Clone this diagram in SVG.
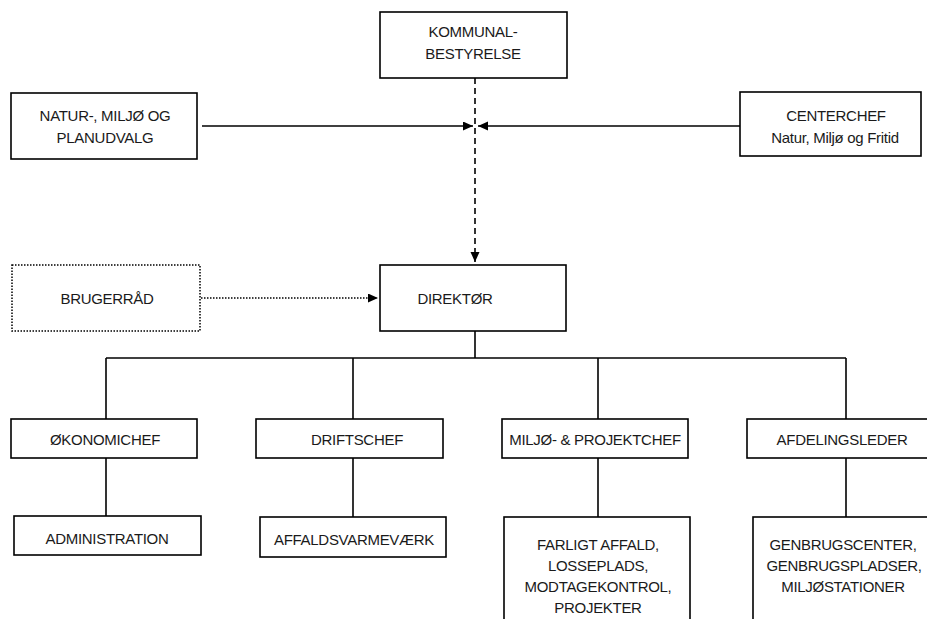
<svg xmlns="http://www.w3.org/2000/svg" width="927" height="619" viewBox="0 0 927 619">
<style>
  .box { fill: #ffffff; stroke: #000000; stroke-width: 1.6; }
  .dotbox { fill: #ffffff; stroke: #000000; stroke-width: 1.5; stroke-dasharray: 1.5 1.5; }
  .t { font-family: "Liberation Sans", Arial, sans-serif; font-size: 15px; letter-spacing: -0.3px; fill: #1a1a1a; text-anchor: middle; }
  .ln { fill: none; stroke: #000000; stroke-width: 1.6; }
  .dash { fill: none; stroke: #000000; stroke-width: 1.6; stroke-dasharray: 6 4; }
  .dot { fill: none; stroke: #000000; stroke-width: 1.5; stroke-dasharray: 1.5 1.5; }
</style>
<defs>
  <marker id="ah" markerUnits="userSpaceOnUse" markerWidth="11" markerHeight="10" refX="10" refY="4.5" orient="auto">
    <path d="M0,0 L10,4.5 L0,9 z" fill="#000000"/>
  </marker>
</defs>
<rect width="927" height="619" fill="#ffffff"/>

<g id="connectors">
  <line class="dash" x1="475" y1="78" x2="475" y2="262" marker-end="url(#ah)"/>
  <line class="ln" x1="202" y1="126" x2="473" y2="126" marker-end="url(#ah)"/>
  <line class="ln" x1="740" y1="126" x2="478" y2="126" marker-end="url(#ah)"/>
  <line class="dot" x1="201" y1="298" x2="378" y2="298" marker-end="url(#ah)"/>
  <line class="ln" x1="475" y1="331" x2="475" y2="358"/>
  <line class="ln" x1="106" y1="358" x2="846" y2="358"/>
  <line class="ln" x1="106" y1="358" x2="106" y2="419"/>
  <line class="ln" x1="353" y1="358" x2="353" y2="419"/>
  <line class="ln" x1="598" y1="358" x2="598" y2="419"/>
  <line class="ln" x1="846" y1="358" x2="846" y2="419"/>
  <line class="ln" x1="106" y1="458" x2="106" y2="516"/>
  <line class="ln" x1="353" y1="458" x2="353" y2="517"/>
  <line class="ln" x1="598" y1="458" x2="598" y2="517"/>
  <line class="ln" x1="846" y1="458" x2="846" y2="517"/>
</g>

<g id="kommunalbestyrelse">
  <rect class="box" x="380" y="12" width="187" height="66"/>
  <text class="t" x="473" y="37">KOMMUNAL-</text>
  <text class="t" x="473" y="59">BESTYRELSE</text>
</g>

<g id="natur-miljo-planudvalg">
  <rect class="box" x="11" y="93" width="186" height="66"/>
  <text class="t" x="105" y="121">NATUR-, MILJØ OG</text>
  <text class="t" x="105" y="143">PLANUDVALG</text>
</g>

<g id="centerchef">
  <rect class="box" x="740" y="92" width="181" height="64"/>
  <text class="t" x="836" y="121">CENTERCHEF</text>
  <text class="t" x="835" y="143">Natur, Miljø og Fritid</text>
</g>

<g id="brugerraad">
  <rect class="dotbox" x="12" y="265" width="188" height="66"/>
  <text class="t" x="107" y="304">BRUGERRÅD</text>
</g>

<g id="direktor">
  <rect class="box" x="380" y="265" width="186" height="66"/>
  <text class="t" x="455" y="304">DIREKTØR</text>
</g>

<g id="okonomichef">
  <rect class="box" x="11" y="419" width="186" height="39"/>
  <text class="t" x="105" y="445">ØKONOMICHEF</text>
</g>

<g id="driftschef">
  <rect class="box" x="256" y="419" width="187" height="39"/>
  <text class="t" x="357" y="445">DRIFTSCHEF</text>
</g>

<g id="miljo-projektchef">
  <rect class="box" x="502" y="419" width="186" height="39"/>
  <text class="t" x="595" y="445">MILJØ- &amp; PROJEKTCHEF</text>
</g>

<g id="afdelingsleder">
  <rect class="box" x="747" y="419" width="190" height="39"/>
  <text class="t" x="842" y="445">AFDELINGSLEDER</text>
</g>

<g id="administration">
  <rect class="box" x="14" y="516" width="187" height="39"/>
  <text class="t" x="107" y="544">ADMINISTRATION</text>
</g>

<g id="affaldsvarmevaerk">
  <rect class="box" x="260" y="517" width="186" height="40"/>
  <text class="t" x="354" y="545">AFFALDSVARMEVÆRK</text>
</g>

<g id="farligt-affald">
  <rect class="box" x="504" y="517" width="186" height="110"/>
  <text class="t" x="598" y="550">FARLIGT AFFALD,</text>
  <text class="t" x="598" y="571">LOSSEPLADS,</text>
  <text class="t" x="598" y="592">MODTAGEKONTROL,</text>
  <text class="t" x="598" y="613">PROJEKTER</text>
</g>

<g id="genbrugscenter">
  <rect class="box" x="753" y="517" width="190" height="110"/>
  <text class="t" x="843" y="550">GENBRUGSCENTER,</text>
  <text class="t" x="844" y="571">GENBRUGSPLADSER,</text>
  <text class="t" x="843" y="592">MILJØSTATIONER</text>
</g>
</svg>
